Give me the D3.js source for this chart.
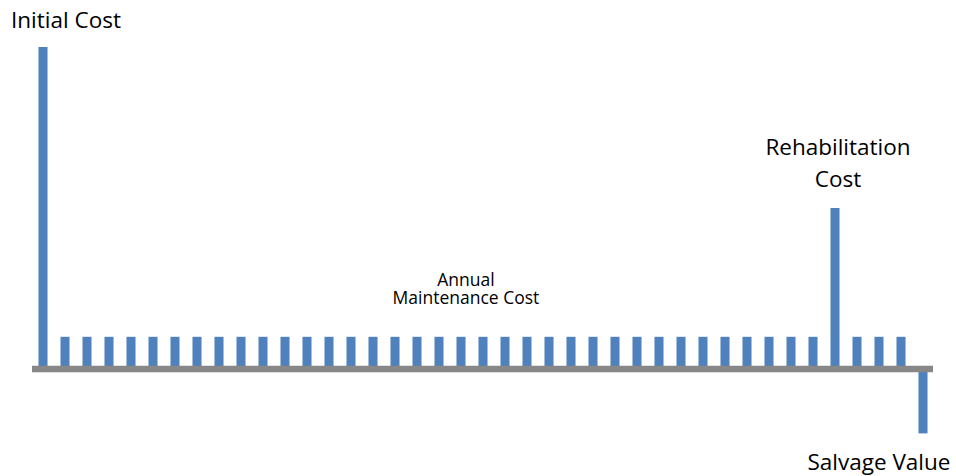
<!DOCTYPE html>
<html>
<head>
<meta charset="utf-8">
<script src="https://cdn.jsdelivr.net/npm/d3@7"></script>
<style>
  body { margin: 0; background: #fff; }
  text { font-family: "Open Sans", Lato, sans-serif; fill: #000; }
</style>
</head>
<body>
<div id="chart"></div>
<script>
// years 0..40 of the life-cycle, one bar per year
const years = d3.range(0, 41);
// cash flow per year (relative units): initial, maintenance, rehab at year 36, salvage at year 40
const costs = years.map(y => y === 0 ? 100 : y === 36 ? 50 : y === 40 ? -20 : 10);
const labels = [
    { lines: ["Initial Cost"], year: 0 },
    { lines: ["Rehabilitation", "Cost"], year: 36 },
    { lines: ["Annual", "Maintenance Cost"], year: 19 },
    { lines: ["Salvage Value"], year: 40 }
];

const width = 956;
const height = 476;

const svg = d3.select("#chart")
    .append("svg")
    .attr("width", width)
    .attr("height", height);

const x = d3.scaleBand()
    .domain(years)
    .range([32, 934])
    .paddingInner(0.59)
    .paddingOuter(0.295);

const y = d3.scaleLinear()
    .domain([-20, 100])
    .range([433.4, 47]);

// bars
svg.append("g")
    .selectAll("rect")
    .data(years)
    .join("rect")
    .attr("x", d => x(d))
    .attr("width", x.bandwidth())
    .attr("y", d => y(Math.max(0, costs[d])))
    .attr("height", d => Math.abs(y(costs[d]) - y(0)))
    .attr("fill", "#4F81BD");

// zero line
svg.append("line")
    .attr("x1", 32)
    .attr("x2", 933)
    .attr("y1", y(0))
    .attr("y2", y(0))
    .attr("stroke", "#878787")
    .attr("stroke-width", 6.5);

const cx = d => x(d) + x.bandwidth() / 2;

// Initial cost label (left aligned near the page edge)
svg.append("text")
    .attr("x", 11)
    .attr("y", 28)
    .style("font-size", "22.5px")
    .text(labels[0].lines[0]);

// Rehabilitation label above the tall bar
const rehab = svg.append("text")
    .attr("text-anchor", "middle")
    .style("font-size", "22.5px");
labels[1].lines.forEach((t, i) => {
    rehab.append("tspan")
        .attr("x", cx(labels[1].year) + 3)
        .attr("y", 155 + i * 31.5)
        .text(t);
});

// Annual maintenance label
const maint = svg.append("text")
    .attr("text-anchor", "middle")
    .style("font-size", "17.5px");
labels[2].lines.forEach((t, i) => {
    maint.append("tspan")
        .attr("x", cx(labels[2].year) + 5)
        .attr("y", 285.5 + i * 18.5)
        .text(t);
});

// Salvage value label under the negative bar
svg.append("text")
    .attr("text-anchor", "middle")
    .attr("x", cx(labels[3].year) - 44)
    .attr("y", 470)
    .style("font-size", "22.5px")
    .text(labels[3].lines[0]);
</script>
</body>
</html>
